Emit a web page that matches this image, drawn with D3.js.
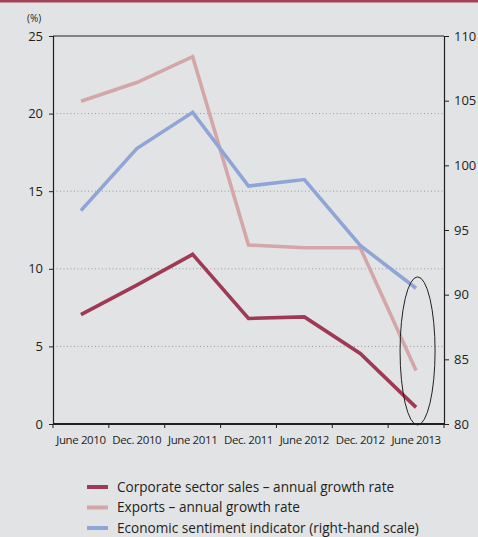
<!DOCTYPE html>
<html>
<head>
<meta charset="utf-8">
<script src="https://cdn.jsdelivr.net/npm/d3@7"></script>
<style>
  html, body { margin: 0; padding: 0; background: #e2e3e5; }
  svg { display: block; }
  text { font-family: "Open Sans", "Noto Sans", sans-serif; fill: #231f20; }
</style>
</head>
<body>
<svg id="chart" width="478" height="537"></svg>
<script>
// Period labels (half-yearly)
const periods = ["June 2010", "Dec. 2010", "June 2011", "Dec. 2011", "June 2012", "Dec. 2012", "June 2013"];

// Annual growth rates, % (left-hand scale)
const corporateSales = [7.05, 8.95, 10.93, 6.8, 6.9, 4.55, 1.07];
const exportsGrowth = [20.8, 22.0, 23.67, 11.53, 11.36, 11.36, 3.45];

// Economic sentiment indicator (right-hand scale)
const sentiment = [96.5, 101.3, 104.1, 98.4, 98.9, 93.8, 90.5];

const leftTicks = [0, 5, 10, 15, 20, 25];
const rightTicks = [80, 85, 90, 95, 100, 105, 110];

const seriesNames = [
  "Corporate sector sales \u2013 annual growth rate",
  "Exports \u2013 annual growth rate",
  "Economic sentiment indicator (right-hand scale)"
];
const colors = ["#9e3a55", "#d5a6a8", "#8fa5d8"];

const svg = d3.select("#chart");
const margin = { left: 53, right: 34, top: 36, bottom: 113 };
const W = 478, H = 537;
const plotW = W - margin.left - margin.right;
const plotH = H - margin.top - margin.bottom;

// top rule
svg.append("rect").attr("x", 0).attr("y", 0).attr("width", W).attr("height", 2.5).attr("fill", "#a04357");

const g = svg.append("g").attr("transform", `translate(${margin.left},${margin.top})`);

const x = d3.scaleBand().domain(periods).range([0, plotW]);
const xc = d => x(d) + x.bandwidth() / 2;
const yL = d3.scaleLinear().domain([0, 25]).range([plotH, 0]);
const yR = d3.scaleLinear().domain([80, 110]).range([plotH, 0]);

// dotted gridlines
g.selectAll(".grid").data(leftTicks.filter(t => t > 0 && t < 25)).join("line")
  .attr("x1", 0).attr("x2", plotW)
  .attr("y1", d => yL(d)).attr("y2", d => yL(d))
  .attr("stroke", "#9a9a9a").attr("stroke-width", 1).attr("stroke-dasharray", "1,2.5");

// top border line
g.append("line").attr("x1", 0).attr("x2", plotW).attr("y1", 0).attr("y2", 0)
  .attr("stroke", "#231f20").attr("stroke-width", 1);

// left axis
const axL = g.append("g").call(d3.axisLeft(yL).tickValues(leftTicks).tickSize(4).tickPadding(6));
// right axis
const axR = g.append("g").attr("transform", `translate(${plotW},0)`)
  .call(d3.axisRight(yR).tickValues(rightTicks).tickSize(5).tickPadding(5));
[axL, axR].forEach(a => {
  a.select(".domain").attr("stroke", "#231f20").attr("stroke-width", 1.2);
  a.selectAll(".tick line").attr("stroke", "#231f20");
  a.selectAll("text").attr("font-size", 13).attr("font-family", "\"Open Sans\", sans-serif").attr("fill", "#231f20");
});

// x axis: ticks at band edges, labels at band centres
const xg = g.append("g").attr("transform", `translate(0,${plotH})`);
const edges = periods.map(p => x(p)).concat([plotW]);
xg.append("line").attr("x1", 0).attr("x2", plotW).attr("y1", 0).attr("y2", 0)
  .attr("stroke", "#231f20").attr("stroke-width", 2);
xg.selectAll(".xt").data(edges).join("line")
  .attr("x1", d => d).attr("x2", d => d).attr("y1", 0).attr("y2", 4)
  .attr("stroke", "#231f20").attr("stroke-width", 1);
xg.selectAll(".xl").data(periods).join("text")
  .attr("x", d => xc(d)).attr("y", 20)
  .attr("text-anchor", "middle")
  .attr("font-size", 11.5)
  .attr("font-family", "\"Liberation Sans Narrow\", \"Open Sans\", sans-serif")
  .attr("letter-spacing", -0.4)
  .text(d => d);

// unit label
svg.append("text").attr("x", 27).attr("y", 22).attr("font-size", 10).text("(%)");

// series lines
const lineL = d3.line().x((d, i) => xc(periods[i])).y(d => yL(d));
const lineR = d3.line().x((d, i) => xc(periods[i])).y(d => yR(d));
const series = [
  { values: exportsGrowth, gen: lineL, color: colors[1] },
  { values: sentiment, gen: lineR, color: colors[2] },
  { values: corporateSales, gen: lineL, color: colors[0] }
];
series.forEach(s => {
  g.append("path").datum(s.values).attr("d", s.gen)
    .attr("fill", "none").attr("stroke", s.color).attr("stroke-width", 3.6)
    .attr("stroke-linejoin", "miter").attr("stroke-linecap", "butt");
});

// highlight ellipse around the latest observation
const last = periods[periods.length - 1];
g.append("ellipse")
  .attr("cx", xc(last) + 1.5)
  .attr("cy", (yL(0) + yR(91.3)) / 2)
  .attr("rx", 17.5)
  .attr("ry", (yL(0) - yR(91.3)) / 2 + 1)
  .attr("fill", "none").attr("stroke", "#231f20").attr("stroke-width", 1);

// legend
const lg = svg.append("g").attr("transform", "translate(87,487)");
seriesNames.forEach((name, i) => {
  const row = lg.append("g").attr("transform", `translate(0,${i * 20.5})`);
  row.append("line").attr("x1", 0).attr("x2", 21).attr("y1", 0).attr("y2", 0)
    .attr("stroke", colors[i]).attr("stroke-width", 4);
  row.append("text").attr("x", 30).attr("y", 0).attr("dy", "0.35em")
    .attr("font-size", 13.6).text(name);
});
</script>
</body>
</html>
